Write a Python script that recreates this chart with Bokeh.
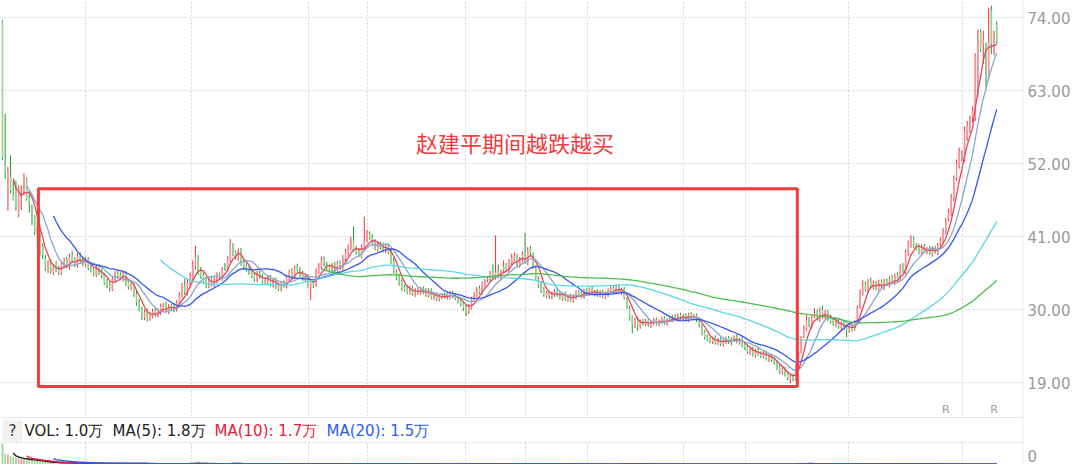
import pandas as pd
from bokeh.plotting import figure
from bokeh.models import Range1d, LinearAxis, FixedTicker, Span, ColumnDataSource, NumeralTickFormatter
from bokeh.embed import file_html
from bokeh.resources import INLINE
from bokeh.core.properties import value

# ---------------- data (daily candles, price in yuan, volume in 万) ----------------
opens = [
    73.4, 52.0, 45.5, 50.0, 47.2, 49.0, 44.2, 47.0, 47.4, 49.6,
    46.8, 45.2, 44.0, 42.2, 40.8, 39.5, 37.6, 36.0, 36.9, 35.6,
    36.8, 36.2, 35.5, 36.6, 37.4, 36.4, 38.2, 37.6, 36.6, 38.2,
    37.4, 36.8, 37.6, 36.1, 36.0, 35.2, 36.4, 35.8, 35.2, 34.2,
    33.8, 33.1, 34.4, 35.5, 35.2, 34.6, 35.5, 34.2, 33.2, 33.8,
    32.4, 31.2, 30.0, 28.8, 29.7, 28.7, 29.0, 29.9, 29.1, 29.6,
    30.3, 30.8, 29.7, 30.6, 30.4, 30.0, 31.0, 32.0, 33.6, 32.4,
    33.8, 34.6, 36.4, 37.6, 35.8, 35.2, 34.4, 33.5, 34.6, 33.6,
    34.4, 35.3, 34.6, 36.3, 36.0, 37.4, 39.6, 38.6, 37.7, 38.8,
    37.2, 36.6, 36.2, 35.8, 35.2, 34.4, 35.5, 35.0, 34.0, 34.2,
    34.9, 33.6, 34.4, 33.5, 33.0, 34.1, 33.5, 34.6, 35.8, 34.8,
    36.5, 36.1, 35.4, 34.4, 34.9, 33.4, 34.3, 33.6, 35.6, 36.4,
    37.6, 36.9, 36.4, 35.9, 36.8, 35.6, 37.1, 36.0, 37.6, 38.4,
    39.2, 40.4, 39.2, 38.8, 38.0, 39.2, 40.4, 41.4, 40.9, 40.2,
    39.0, 39.8, 39.6, 38.8, 39.6, 38.8, 37.4, 35.6, 35.0, 34.2,
    33.4, 33.2, 32.4, 33.3, 32.2, 33.0, 32.4, 33.1, 32.8, 32.0,
    32.9, 31.7, 32.3, 31.5, 32.2, 31.8, 32.4, 31.7, 32.5, 32.1,
    31.8, 31.3, 30.9, 30.4, 29.6, 30.2, 31.4, 32.1, 33.2, 32.4,
    33.6, 34.4, 34.5, 35.6, 34.8, 35.8, 34.8, 35.9, 36.7, 35.8,
    37.0, 37.6, 38.2, 36.6, 37.4, 38.6, 37.0, 39.2, 38.2, 36.2,
    34.6, 33.8, 33.0, 32.0, 32.6, 31.8, 32.2, 33.0, 32.4, 31.6,
    32.4, 31.4, 32.1, 31.3, 31.8, 32.7, 32.4, 31.9, 32.9, 32.4,
    33.1, 32.3, 32.8, 32.1, 32.7, 31.9, 32.2, 32.8, 33.3, 32.7,
    33.5, 32.5, 33.1, 31.6, 30.2, 28.8, 27.6, 28.6, 27.4, 28.3,
    27.8, 28.4, 27.5, 27.9, 28.5, 27.8, 28.1, 28.7, 27.9, 28.6,
    28.4, 29.0, 28.5, 29.2, 28.6, 29.1, 28.4, 29.3, 28.7, 29.1,
    28.5, 27.5, 26.6, 25.9, 25.7, 25.1, 25.8, 24.9, 25.5, 24.7,
    25.1, 25.7, 24.9, 25.4, 25.9, 25.0, 25.5, 24.8, 24.4, 23.4,
    24.1, 23.1, 23.9, 23.4, 22.9, 23.5, 22.4, 23.0, 22.5, 22.1,
    21.4, 20.5, 21.1, 20.4, 19.3, 20.0, 19.6, 21.5, 23.7, 26.0,
    27.1, 28.6, 27.4, 29.0, 29.6, 28.4, 30.0, 28.8, 29.6, 28.8,
    28.4, 27.6, 28.2, 27.2, 28.0, 27.4, 26.8, 27.7, 27.1, 28.2,
    30.4, 32.4, 33.8, 32.8, 34.4, 33.3, 34.0, 33.1, 34.2, 33.2,
    34.3, 33.6, 34.8, 34.0, 35.2, 34.6, 36.6, 35.6, 38.4, 39.6,
    40.6, 39.4, 39.5, 38.4, 39.6, 38.6, 39.3, 38.3, 39.4, 38.5,
    39.8, 40.2, 41.6, 43.6, 44.4, 46.6, 49.8, 51.6, 52.8, 52.6,
    55.8, 57.0, 58.8, 58.8, 68.0, 71.8, 70.0, 69.6, 65.0, 75.0,
    70.4, 73.0,
]
highs = [
    73.6, 59.5, 51.5, 53.2, 49.5, 49.4, 48.7, 48.7, 50.5, 49.9,
    47.9, 45.8, 44.2, 43.1, 41.9, 40.0, 38.2, 37.4, 37.6, 36.9,
    37.3, 36.6, 37.2, 37.8, 37.9, 38.4, 38.8, 37.9, 38.5, 38.6,
    37.8, 37.9, 37.9, 36.6, 36.4, 36.7, 36.8, 36.2, 35.5, 34.6,
    34.2, 35.0, 35.8, 36.0, 35.6, 35.9, 35.8, 34.6, 34.3, 34.0,
    32.8, 31.6, 30.4, 30.0, 30.1, 29.6, 30.1, 30.3, 30.2, 30.9,
    31.0, 31.2, 30.8, 30.9, 30.8, 31.4, 32.6, 34.0, 34.6, 34.5,
    35.6, 37.4, 39.6, 38.2, 36.4, 35.6, 34.9, 35.0, 34.9, 35.0,
    35.6, 35.6, 36.4, 37.0, 38.0, 40.6, 40.0, 38.9, 39.2, 39.3,
    37.6, 36.9, 36.6, 36.2, 35.6, 35.8, 35.9, 35.4, 34.8, 35.2,
    35.2, 34.6, 34.8, 33.9, 34.3, 34.4, 35.2, 36.0, 36.2, 36.6,
    36.9, 36.4, 35.8, 35.2, 35.3, 34.6, 34.6, 36.2, 37.0, 38.0,
    38.0, 37.2, 36.8, 37.0, 37.2, 37.3, 37.4, 38.2, 39.2, 39.8,
    41.0, 42.5, 39.6, 39.2, 39.8, 44.0, 42.0, 41.8, 41.4, 40.6,
    40.0, 40.2, 40.1, 39.9, 39.9, 39.2, 37.8, 36.0, 35.4, 34.6,
    33.8, 33.6, 33.6, 33.6, 33.2, 33.3, 33.4, 33.5, 33.2, 33.2,
    33.2, 32.4, 32.6, 32.3, 32.5, 32.6, 32.7, 32.8, 32.8, 32.4,
    32.1, 31.6, 31.2, 30.7, 30.8, 31.9, 32.6, 33.4, 33.6, 34.2,
    34.6, 35.0, 35.8, 36.8, 41.2, 36.8, 36.0, 37.4, 37.0, 37.6,
    38.4, 38.6, 38.4, 37.9, 38.8, 41.5, 39.4, 39.6, 38.6, 36.6,
    35.0, 34.2, 33.4, 32.8, 32.9, 32.7, 33.1, 33.3, 32.7, 32.6,
    32.7, 32.2, 32.4, 32.3, 32.9, 32.9, 32.7, 33.1, 33.2, 33.3,
    33.4, 33.0, 33.1, 32.9, 33.0, 32.7, 33.2, 33.5, 33.6, 33.8,
    33.8, 33.3, 33.4, 31.9, 30.5, 29.1, 28.8, 28.9, 28.5, 28.6,
    28.6, 28.7, 28.3, 28.7, 28.8, 28.5, 28.9, 29.0, 28.7, 28.9,
    29.2, 29.3, 29.4, 29.5, 29.3, 29.4, 29.5, 29.6, 29.3, 29.4,
    28.8, 27.8, 26.9, 26.2, 25.9, 25.9, 26.1, 25.7, 25.8, 25.5,
    25.9, 26.0, 25.8, 26.1, 26.2, 25.7, 25.8, 25.1, 24.7, 24.2,
    24.4, 24.1, 24.2, 23.7, 23.7, 23.8, 23.2, 23.3, 22.8, 22.4,
    21.7, 21.3, 21.4, 20.7, 20.2, 20.3, 21.6, 23.7, 26.0, 27.6,
    29.2, 28.9, 29.3, 30.2, 30.0, 30.3, 30.6, 29.9, 29.9, 29.2,
    28.8, 28.4, 28.5, 28.2, 28.3, 27.8, 27.8, 28.0, 28.4, 30.6,
    33.0, 34.4, 34.2, 34.6, 34.8, 34.4, 34.3, 34.5, 34.5, 34.6,
    34.7, 35.0, 35.2, 35.4, 35.6, 36.8, 37.0, 39.0, 40.4, 41.2,
    41.0, 40.0, 39.9, 39.8, 39.9, 39.4, 39.6, 39.5, 39.6, 40.0,
    40.9, 42.3, 43.8, 45.2, 47.4, 50.2, 52.6, 54.4, 54.0, 57.6,
    58.4, 59.2, 60.6, 68.6, 72.2, 72.2, 72.0, 70.2, 75.5, 75.8,
    72.0, 73.4,
]
lows = [
    52.5, 49.7, 44.9, 47.5, 46.4, 44.9, 43.9, 45.0, 47.2, 46.4,
    44.6, 42.7, 41.2, 40.4, 38.1, 37.6, 35.8, 35.5, 35.4, 35.2,
    35.6, 35.2, 35.2, 36.2, 36.2, 36.0, 37.0, 36.4, 36.3, 36.9,
    36.5, 36.4, 35.9, 35.6, 35.0, 34.9, 35.2, 34.7, 33.7, 33.2,
    32.7, 32.8, 34.0, 34.6, 34.4, 34.2, 33.6, 33.0, 32.9, 31.9,
    30.6, 29.7, 28.4, 28.4, 28.2, 28.3, 28.7, 28.9, 28.8, 29.2,
    29.9, 29.5, 29.3, 29.8, 29.6, 29.7, 30.7, 31.8, 32.2, 32.1,
    33.4, 34.2, 36.0, 35.2, 34.6, 33.8, 33.2, 33.2, 33.5, 33.3,
    34.0, 34.4, 34.3, 35.8, 35.7, 37.0, 38.0, 37.5, 37.3, 36.6,
    36.0, 35.7, 35.2, 34.7, 34.2, 34.1, 34.6, 33.9, 33.7, 33.9,
    33.5, 33.3, 33.1, 32.8, 32.7, 33.3, 33.2, 34.3, 34.7, 34.6,
    35.7, 34.9, 34.3, 34.1, 33.3, 31.4, 33.2, 33.4, 35.3, 36.1,
    36.5, 35.9, 35.7, 35.6, 35.5, 35.3, 35.9, 35.8, 37.3, 38.1,
    38.9, 38.7, 38.3, 37.9, 37.7, 38.8, 40.1, 40.5, 39.7, 38.9,
    38.7, 39.0, 38.6, 38.5, 38.3, 36.9, 35.4, 34.4, 33.6, 32.8,
    32.7, 32.3, 32.2, 32.1, 31.9, 32.2, 32.2, 32.3, 31.9, 31.8,
    31.5, 31.4, 31.3, 31.2, 31.6, 31.6, 31.5, 31.5, 31.7, 31.4,
    30.9, 30.5, 29.8, 29.0, 29.3, 30.0, 31.2, 31.9, 32.3, 32.2,
    33.3, 34.1, 34.2, 34.6, 34.5, 34.7, 34.5, 35.6, 35.7, 35.6,
    36.7, 37.3, 36.5, 36.3, 37.1, 36.9, 36.7, 38.2, 36.1, 34.5,
    33.3, 32.5, 31.9, 31.7, 31.6, 31.5, 31.9, 31.9, 31.5, 31.3,
    31.3, 31.1, 31.1, 31.0, 31.5, 31.9, 31.7, 31.6, 32.2, 32.1,
    32.1, 32.0, 31.9, 31.8, 31.7, 31.6, 31.9, 32.5, 32.5, 32.4,
    32.3, 32.2, 31.5, 30.1, 28.3, 26.4, 27.2, 26.8, 27.1, 27.6,
    27.5, 27.4, 27.2, 27.6, 27.6, 27.5, 27.8, 27.7, 27.6, 28.2,
    28.1, 28.3, 28.2, 28.4, 28.3, 28.2, 28.1, 28.5, 28.4, 28.1,
    27.3, 26.1, 25.5, 25.2, 24.9, 24.8, 24.7, 24.6, 24.5, 24.4,
    24.8, 24.8, 24.6, 25.1, 24.9, 24.7, 24.3, 23.9, 23.3, 23.1,
    22.9, 22.8, 23.0, 22.7, 22.6, 22.3, 22.1, 22.1, 21.7, 20.9,
    20.3, 20.2, 19.9, 19.3, 18.9, 19.2, 19.3, 21.2, 23.4, 25.7,
    26.8, 27.3, 27.1, 28.7, 28.3, 28.1, 28.6, 28.5, 28.3, 27.9,
    27.5, 27.3, 27.1, 26.9, 26.9, 25.8, 26.5, 26.7, 26.8, 27.9,
    30.1, 32.1, 32.7, 32.5, 33.2, 33.0, 32.9, 32.8, 33.1, 32.9,
    33.5, 33.3, 33.9, 33.7, 34.1, 34.3, 35.5, 35.3, 38.1, 39.3,
    39.3, 38.9, 38.3, 38.1, 38.5, 38.3, 38.2, 38.0, 38.4, 38.2,
    39.5, 39.9, 41.3, 43.3, 44.1, 46.3, 49.4, 51.2, 52.3, 52.2,
    55.4, 56.6, 58.2, 58.4, 62.0, 68.8, 67.0, 63.5, 64.5, 68.5,
    68.3, 70.0,
]
closes = [
    52.8, 50.5, 50.8, 48.0, 46.6, 45.4, 48.2, 47.6, 50.0, 46.6,
    46.0, 44.4, 41.6, 41.4, 38.6, 38.2, 36.2, 36.9, 35.8, 36.5,
    36.0, 35.6, 36.8, 37.2, 36.6, 37.9, 37.4, 36.8, 38.0, 37.3,
    36.9, 37.5, 36.2, 36.0, 35.4, 36.3, 35.6, 35.1, 34.0, 33.6,
    33.2, 34.6, 35.3, 35.0, 34.8, 35.4, 34.0, 33.4, 33.9, 32.2,
    31.0, 30.1, 29.0, 29.6, 28.8, 29.2, 29.7, 29.3, 29.8, 30.5,
    30.6, 29.9, 30.4, 30.2, 30.1, 31.0, 32.2, 33.5, 32.6, 34.0,
    34.8, 36.5, 37.8, 35.6, 35.0, 34.2, 33.6, 34.4, 33.8, 34.6,
    35.1, 34.8, 36.0, 36.2, 37.6, 39.8, 38.4, 37.9, 38.6, 36.9,
    36.4, 36.0, 35.6, 35.0, 34.6, 35.3, 34.9, 34.2, 34.4, 34.8,
    33.8, 34.2, 33.4, 33.1, 33.9, 33.6, 34.8, 35.6, 35.0, 36.2,
    36.0, 35.2, 34.6, 34.8, 33.6, 34.2, 33.5, 35.8, 36.6, 37.4,
    36.8, 36.2, 36.0, 36.6, 35.8, 36.9, 36.2, 37.8, 38.6, 39.4,
    40.2, 39.0, 38.6, 38.2, 39.4, 40.6, 41.2, 40.8, 40.0, 39.2,
    39.6, 39.4, 39.0, 39.5, 38.6, 37.2, 35.8, 34.8, 34.0, 33.2,
    33.0, 32.6, 33.2, 32.4, 32.9, 32.5, 33.0, 32.6, 32.2, 32.8,
    31.8, 32.1, 31.6, 32.0, 31.9, 32.3, 31.8, 32.4, 32.0, 31.7,
    31.2, 30.8, 30.2, 29.8, 30.4, 31.6, 32.2, 33.0, 32.6, 33.8,
    34.2, 34.6, 35.4, 34.9, 35.6, 35.0, 35.8, 36.5, 36.0, 37.2,
    37.8, 38.0, 36.8, 37.6, 38.4, 37.2, 38.9, 38.6, 36.4, 34.8,
    33.6, 32.8, 32.2, 32.5, 31.9, 32.4, 32.8, 32.2, 31.8, 32.3,
    31.6, 31.9, 31.4, 32.0, 32.6, 32.2, 32.0, 32.8, 32.5, 33.0,
    32.4, 32.7, 32.2, 32.6, 32.0, 32.4, 32.9, 33.2, 32.8, 33.4,
    32.6, 33.0, 31.8, 30.4, 28.6, 27.8, 28.4, 27.6, 28.2, 27.9,
    28.3, 27.7, 28.0, 28.4, 27.9, 28.2, 28.6, 28.0, 28.4, 28.5,
    28.9, 28.6, 29.1, 28.7, 29.0, 28.5, 29.2, 28.8, 29.0, 28.4,
    27.6, 26.4, 25.8, 25.5, 25.2, 25.6, 25.0, 25.4, 24.8, 25.2,
    25.6, 25.1, 25.5, 25.8, 25.2, 25.4, 24.6, 24.2, 23.6, 23.9,
    23.2, 23.8, 23.3, 23.0, 23.4, 22.6, 22.9, 22.4, 22.0, 21.2,
    20.6, 21.0, 20.2, 19.6, 19.9, 19.5, 21.4, 23.6, 25.9, 27.2,
    28.4, 27.6, 28.9, 29.4, 28.6, 29.8, 28.9, 29.5, 28.6, 28.2,
    27.8, 28.0, 27.4, 27.9, 27.2, 26.9, 27.5, 27.0, 28.0, 30.2,
    32.2, 33.6, 33.0, 34.2, 33.5, 33.9, 33.2, 34.0, 33.4, 34.1,
    33.8, 34.6, 34.2, 35.0, 34.4, 36.4, 35.8, 38.6, 39.8, 40.4,
    39.6, 39.2, 38.6, 39.4, 38.8, 39.0, 38.5, 39.2, 38.7, 39.6,
    40.4, 41.8, 43.2, 44.6, 46.8, 49.5, 52.0, 53.8, 53.2, 57.0,
    57.8, 58.6, 60.0, 68.4, 69.5, 69.2, 70.5, 68.0, 70.4, 70.0,
    70.4, 70.4,
]
volumes = [
    118, 62, 55, 46, 40, 38, 33, 30, 31, 27,
    24, 26, 22, 20, 18, 16, 14, 13, 12, 11,
    10, 9.5, 10, 9, 8.5, 9, 8, 7.5, 8.2, 7.6,
    7, 6.8, 6.5, 6.2, 6, 6.4, 5.8, 5.6, 5.9, 5.4,
    5.6, 6.0, 5.8, 5.2, 5.0, 5.3, 4.9, 4.7, 4.8, 5.2,
    5.6, 5.0, 5.4, 4.8, 4.2, 4.0, 3.8, 3.9, 3.6, 3.8,
    3.7, 3.5, 3.4, 3.6, 3.3, 4.0, 4.6, 5.2, 4.8, 5.6,
    6.2, 6.8, 7.4, 6.0, 5.0, 4.4, 4.0, 3.8, 3.6, 3.5,
    3.8, 3.6, 4.2, 4.4, 5.0, 6.2, 5.6, 4.8, 4.6, 4.4,
    4.0, 3.7, 3.5, 3.4, 3.3, 3.2, 3.1, 3.0, 3.1, 3.2,
    3.0, 2.9, 2.8, 2.9, 2.7, 2.8, 3.2, 3.6, 3.4, 3.8,
    3.6, 3.2, 3.0, 2.9, 3.1, 3.4, 2.8, 3.6, 3.9, 4.2,
    3.8, 3.4, 3.2, 3.1, 3.0, 3.3, 3.2, 3.8, 4.2, 4.6,
    5.0, 4.8, 4.0, 3.7, 3.9, 5.6, 4.8, 4.2, 3.8, 3.5,
    3.4, 3.2, 3.1, 3.0, 3.2, 3.5, 3.8, 3.6, 3.3, 3.1,
    2.9, 2.7, 2.6, 2.5, 2.4, 2.3, 2.4, 2.2, 2.3, 2.2,
    2.1, 2.2, 2.0, 2.1, 2.0, 1.9, 2.0, 2.1, 1.9, 2.0,
    2.2, 2.4, 2.6, 2.8, 2.5, 2.9, 3.2, 3.4, 3.0, 3.6,
    3.8, 3.5, 4.0, 3.6, 5.2, 3.8, 3.6, 4.0, 3.7, 4.2,
    4.4, 4.0, 3.6, 3.8, 4.1, 5.0, 4.6, 4.2, 3.8, 3.6,
    3.3, 3.0, 2.8, 2.6, 2.5, 2.4, 2.5, 2.3, 2.2, 2.3,
    2.2, 2.1, 2.0, 2.1, 2.2, 2.0, 1.9, 2.1, 2.0, 2.2,
    2.1, 2.0, 1.9, 2.0, 1.9, 1.8, 2.0, 2.1, 1.9, 2.2,
    2.3, 2.1, 2.4, 2.8, 3.2, 3.0, 2.6, 2.5, 2.2, 2.1,
    2.0, 1.9, 1.8, 1.9, 1.8, 1.7, 1.8, 1.7, 1.6, 1.7,
    1.8, 1.7, 1.9, 1.8, 1.7, 1.6, 1.8, 1.7, 1.6, 1.7,
    2.0, 2.2, 2.0, 1.8, 1.7, 1.6, 1.7, 1.6, 1.5, 1.6,
    1.6, 1.5, 1.6, 1.7, 1.6, 1.5, 1.7, 1.8, 1.9, 1.7,
    1.8, 1.7, 1.6, 1.5, 1.6, 1.7, 1.6, 1.5, 1.7, 1.9,
    2.0, 1.9, 1.8, 2.1, 2.4, 2.0, 3.6, 4.2, 5.4, 6.0,
    5.2, 4.6, 4.0, 4.4, 3.8, 4.2, 3.6, 3.2, 3.0, 2.8,
    2.6, 2.4, 2.3, 2.2, 2.4, 2.5, 2.2, 2.1, 2.6, 3.8,
    4.6, 4.2, 3.6, 3.8, 3.4, 3.2, 3.0, 3.1, 2.8, 2.9,
    2.7, 2.8, 2.6, 2.9, 2.7, 3.4, 3.0, 3.8, 4.2, 3.9,
    3.2, 2.8, 2.6, 2.5, 2.4, 2.3, 2.2, 2.1, 2.0, 2.2,
    1.6, 1.5, 1.4, 1.3, 1.2, 1.4, 1.3, 1.2, 1.3, 1.4,
    1.2, 1.2, 2.6, 1.2, 1.4, 1.6, 1.5, 1.9, 2.4, 1.8,
    1.7, 1.0,
]

price_ticks = [19, 30, 41, 52, 63, 74]
date_grid_idx = [31, 70.5, 114.2, 136.2, 172.8, 195.1, 218.3, 254.1, 277.2, 315.7, 358.2]
ma_periods = [5, 10, 20, 60, 120]
ma_colors = ["#E8455E", "#86A8CE", "#3457F0", "#5AD6EA", "#4DBE4D"]
vol_ma_periods = [5, 10, 20]
vol_ma_colors = ["#222222", "#E8203A", "#2B5CF0"]
note_text = "赵建平期间越跌越买"
note_idx, note_price = 191.2, 55.2
box_idx = (13.4, 296.6)
box_price = (18.4, 48.2)
r_mark_idx = [352, 370]
r_mark_price = 14.9

# ---------------- layout geometry (pixels) ----------------
FRAME_W, FRAME_H, RIGHT_W = 1023, 464, 57
PPU = 73 / 11.0                      # pixels per yuan
def py(y):                           # screen y -> price
    return 19 + (382 - y) / PPU

n = len(closes)
x_start, x_end = -0.75, n - 1 + 10.0
PX = FRAME_W / (x_end - x_start)     # pixels per candle
def ix(x):                           # screen x -> candle index
    return x_start + x / PX

idx = list(range(n))
up = [c >= o for o, c in zip(opens, closes)]
UP_WICK, UP_BODY = "#F0303C", "#F6979B"
DN_WICK, DN_BODY = "#1E9A2C", "#97D48F"
GRID = "#d2d2d2"

src = ColumnDataSource(dict(
    x=idx, h=highs, l=lows,
    top=[max(a, b) for a, b in zip(opens, closes)],
    bot=[min(a, b) for a, b in zip(opens, closes)],
    wick=[UP_WICK if u else DN_WICK for u in up],
    body=[UP_BODY if u else DN_BODY for u in up],
    vol=volumes,
))

p = figure(frame_width=FRAME_W, frame_height=FRAME_H, title=None,
           x_range=Range1d(x_start, x_end), y_range=Range1d(py(FRAME_H), py(0)),
           x_axis_location=None, y_axis_location=None, toolbar_location=None,
           output_backend="svg", min_border_left=0, min_border_right=RIGHT_W,
           min_border_top=0, min_border_bottom=0, outline_line_color=None,
           background_fill_color="white", border_fill_color="white")
vol_max = max(volumes)
p.extra_y_ranges = {"vol": Range1d(0, vol_max * FRAME_H / (FRAME_H - 443))}

p.xgrid.ticker = FixedTicker(ticks=date_grid_idx)
p.ygrid.ticker = FixedTicker(ticks=price_ticks)
p.grid.grid_line_color = GRID
p.grid.grid_line_dash = "2 2"
p.grid.grid_line_width = 1

zero_tick = 8
ax = LinearAxis(ticker=FixedTicker(ticks=price_ticks + [zero_tick]),
                formatter=NumeralTickFormatter(format="0.00"))
ax.major_label_overrides = {zero_tick: "0"}
ax.axis_line_color = None
ax.major_tick_line_color = None
ax.minor_tick_line_color = None
ax.major_tick_out = 0
ax.major_tick_in = 0
ax.major_label_standoff = 4
ax.major_label_text_font = "DejaVu Sans"
ax.major_label_text_font_size = "15px"
ax.major_label_text_color = "#9a9a9a"
p.add_layout(ax, "right")

# candles
p.segment(x0="x", y0="l", x1="x", y1="h", line_color="wick", line_width=1, source=src)
p.vbar(x="x", width=0.62, top="top", bottom="bot", fill_color="body", line_color=None, source=src)

cs = pd.Series(closes)
for per, col in zip(ma_periods, ma_colors):
    p.line(idx, cs.rolling(per).mean().tolist(), line_color=col, line_width=1.3)

# volume
p.vbar(x="x", width=0.62, top="vol", bottom=0, fill_color="body", line_color=None,
       source=src, y_range_name="vol")
vs = pd.Series(volumes)
for per, col in zip(vol_ma_periods, vol_ma_colors):
    p.line(idx, vs.rolling(per).mean().tolist(), line_color=col, line_width=1.5, y_range_name="vol")

# legend row (mask grid) and separators
p.quad(left=[x_start], right=[x_end], bottom=[py(442)], top=[py(417)], fill_color="white", line_color=None)
p.add_layout(Span(location=py(417), dimension="width", line_color="#e4e4e4", line_width=1))
p.add_layout(Span(location=py(442), dimension="width", line_color=GRID, line_dash="2 2", line_width=1))
p.add_layout(Span(location=x_end - 0.15, dimension="height", line_color="#e2e2e2", line_width=1))

p.quad(left=[ix(2)], right=[ix(22)], bottom=[py(441)], top=[py(420)], fill_color="#f0f0f0", line_color=None)
p.text(x=[ix(12)], y=[py(430)], text=["?"], text_font=value("DejaVu Sans"), text_font_size=value("15px"),
       text_color="#333333", text_align="center", text_baseline="middle")
vma = [vs.rolling(k).mean().iloc[-1] for k in vol_ma_periods]
items = [
    (24, f"VOL: {volumes[-1]:.1f}万", "#222222"),
    (112, f"MA({vol_ma_periods[0]}): {vma[0]:.1f}万", "#222222"),
    (214, f"MA({vol_ma_periods[1]}): {vma[1]:.1f}万", "#E8203A"),
    (326, f"MA({vol_ma_periods[2]}): {vma[2]:.1f}万", "#2B5CF0"),
]
for xx, t, col in items:
    p.text(x=[ix(xx)], y=[py(430)], text=[t], text_font=value("DejaVu Sans"), text_font_size=value("15px"),
           text_color=col, text_align="left", text_baseline="middle")

# annotation box and note
p.quad(left=[box_idx[0]], right=[box_idx[1]], bottom=[box_price[0]], top=[box_price[1]],
       fill_color=None, line_color="#F53B3B", line_width=3)
p.text(x=[note_idx], y=[note_price], text=[note_text], text_font=value("Noto Sans CJK SC"),
       text_font_size=value("22px"), text_color="#F03C3C", text_align="center", text_baseline="middle")
p.text(x=r_mark_idx, y=[r_mark_price] * len(r_mark_idx), text=["R"] * len(r_mark_idx),
       text_font=value("DejaVu Sans"), text_font_size=value("11px"), text_color="#9a9a9a",
       text_align="center", text_baseline="middle")

open("out.html", "w").write(file_html(p, INLINE))
